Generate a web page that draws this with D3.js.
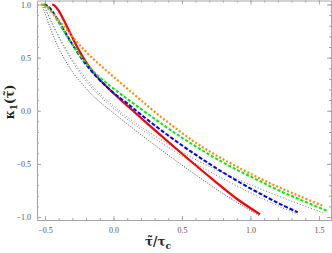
<!DOCTYPE html>
<html><head><meta charset="utf-8">
<script src="https://cdn.jsdelivr.net/npm/d3@7"></script>
<style>body{margin:0;background:#fff}svg{display:block}</style>
</head><body>
<script>
// data (x = tau/tau_c, y = kappa_1)
const redX   = [-0.447,-0.43,-0.40,-0.36,-0.32,-0.28,-0.24,-0.20,-0.15,-0.10,-0.03,0.05,0.15,0.30,0.45,0.60,0.75,0.90,1.07];
const redY   = [1.00,0.99,0.942,0.846,0.742,0.638,0.542,0.458,0.368,0.293,0.202,0.106,-0.009,-0.18,-0.348,-0.513,-0.673,-0.828,-0.975];
const blueX  = [-0.507,-0.48,-0.44,-0.40,-0.35,-0.30,-0.25,-0.20,-0.14,-0.07,0.00,0.10,0.20,0.35,0.50,0.65,0.80,0.95,1.10,1.22,1.345];
const blueY  = [1.00,0.987,0.927,0.843,0.733,0.625,0.525,0.435,0.342,0.251,0.17,0.07,-0.035,-0.185,-0.325,-0.457,-0.58,-0.695,-0.80,-0.88,-0.955];
const greenX = [-0.52,-0.49,-0.45,-0.41,-0.36,-0.31,-0.26,-0.20,-0.13,-0.05,0.05,0.15,0.30,0.45,0.60,0.75,0.90,1.05,1.20,1.38,1.556];
const greenY = [1.00,0.988,0.932,0.852,0.747,0.645,0.55,0.448,0.35,0.26,0.16,0.065,-0.075,-0.21,-0.335,-0.45,-0.555,-0.65,-0.745,-0.845,-0.94];
const orangeX= [-0.53,-0.50,-0.46,-0.42,-0.37,-0.31,-0.24,-0.16,-0.08,0.00,0.10,0.20,0.32,0.45,0.60,0.75,0.90,1.05,1.20,1.37,1.53];
const orangeY= [1.00,0.985,0.941,0.883,0.806,0.713,0.61,0.503,0.41,0.32,0.21,0.10,-0.03,-0.16,-0.30,-0.42,-0.525,-0.625,-0.715,-0.81,-0.895];
const dotAX  = [-0.52,-0.50,-0.47,-0.44,-0.40,-0.35,-0.29,-0.22,-0.14,-0.06,0.00,0.10,0.20,0.35,0.50,0.65,0.80,0.95,1.07];
const dotAY  = [1.00,0.92,0.81,0.71,0.59,0.47,0.35,0.24,0.13,0.04,-0.02,-0.124,-0.224,-0.37,-0.511,-0.648,-0.78,-0.90,-0.99];
const dotBX  = [-0.51,-0.49,-0.46,-0.42,-0.37,-0.31,-0.24,-0.16,-0.07,0.03,0.15,0.30,0.45,0.63,0.80,0.95,1.10,1.22,1.345];
const dotBY  = [1.00,0.94,0.853,0.745,0.62,0.485,0.348,0.22,0.103,-0.007,-0.127,-0.26,-0.385,-0.52,-0.64,-0.74,-0.835,-0.905,-0.975];
const dotCX  = [-0.51,-0.49,-0.46,-0.42,-0.37,-0.31,-0.24,-0.16,-0.07,0.03,0.15,0.30,0.45,0.63,0.80,0.95,1.10,1.30,1.53];
const dotCY  = [1.00,0.942,0.858,0.754,0.634,0.502,0.369,0.241,0.124,0.014,-0.106,-0.235,-0.35,-0.48,-0.585,-0.67,-0.75,-0.85,-0.96];
const xTicks = [-0.5,0.0,0.5,1.0,1.5];
const yTicks = [-1.0,-0.5,0.0,0.5,1.0];

const W=332,H=253;
const L=37,R=331,T=0.5,B=220;
const x=d3.scaleLinear().domain([-0.558,1.588]).range([L,R]);
const y=d3.scaleLinear().domain([-1.028,1.0376]).range([B,T]);
const svg=d3.select("body").append("svg").attr("width",W).attr("height",H);

const axCol="#a6a6a6", lblCol="#555";
const fmt=v=>(v<0?"\u2212":"")+Math.abs(v).toFixed(1);
const xMinor=d3.range(-0.5,1.6,0.1).map(v=>+v.toFixed(2));
const yMinor=d3.range(-1.0,1.01,0.1).map(v=>+v.toFixed(2));

function axisStyle(g){g.selectAll("path").attr("stroke",axCol);g.selectAll("line").attr("stroke",axCol);
  g.selectAll("text").attr("fill",lblCol).style("font-family","'Liberation Serif',serif").style("font-size","8px");}

// minor ticks
svg.append("g").attr("transform",`translate(0,${B})`).call(d3.axisBottom(x).tickValues(xMinor).tickSize(-2).tickFormat("")).call(axisStyle).select("path").remove();
svg.append("g").attr("transform",`translate(0,${T})`).call(d3.axisTop(x).tickValues(xMinor).tickSize(-2).tickFormat("")).call(axisStyle).select("path").remove();
svg.append("g").attr("transform",`translate(${L},0)`).call(d3.axisLeft(y).tickValues(yMinor).tickSize(-2).tickFormat("")).call(axisStyle).select("path").remove();
svg.append("g").attr("transform",`translate(${R},0)`).call(d3.axisRight(y).tickValues(yMinor).tickSize(-2).tickFormat("")).call(axisStyle).select("path").remove();
// major
svg.append("g").attr("transform",`translate(0,${B})`).call(d3.axisBottom(x).tickValues(xTicks).tickSize(-4).tickPadding(7).tickSizeOuter(0).tickFormat(fmt)).call(axisStyle);
svg.append("g").attr("transform",`translate(0,${T})`).call(d3.axisTop(x).tickValues(xTicks).tickSize(-4).tickSizeOuter(0).tickFormat("")).call(axisStyle);
svg.append("g").attr("transform",`translate(${L},0)`).call(d3.axisLeft(y).tickValues(yTicks).tickSize(-4).tickPadding(6).tickSizeOuter(0).tickFormat(fmt)).call(axisStyle);
svg.append("g").attr("transform",`translate(${R},0)`).call(d3.axisRight(y).tickValues(yTicks).tickSize(-4).tickSizeOuter(0).tickFormat("")).call(axisStyle);

const line=d3.line().x(d=>x(d[0])).y(d=>y(d[1])).curve(d3.curveCatmullRom.alpha(0.5));
const z=(a,b)=>a.map((v,i)=>[v,b[i]]);
svg.append("clipPath").attr("id","c").append("rect").attr("x",L).attr("y",T).attr("width",R-L).attr("height",B-T);
const plot=svg.append("g").attr("clip-path","url(#c)");
function draw(d,col,w,dash){plot.append("path").attr("d",line(d)).attr("fill","none").attr("stroke",col).attr("stroke-width",w).attr("stroke-dasharray",dash||null);}
draw(z(dotAX,dotAY),"#333",0.9,"1,1.6");
draw(z(dotBX,dotBY),"#666",0.9,"1,2");
draw(z(dotCX,dotCY),"#666",0.9,"1,2");
draw(z(redX,redY),"#ff0000",2.2);
draw(z(blueX,blueY),"#0000ff",2,"4,1.8");
draw(z(greenX,greenY),"#00ee00",2,"3,2");
draw(z(orangeX,orangeY),"#ff8c00",2.2,"2,2");

svg.append("text").attr("transform","translate(14,102) rotate(-90)").attr("text-anchor","middle")
 .style("font-family","'DejaVu Serif',serif").style("font-weight","bold").style("font-size","12px").attr("fill","#222")
 .html('κ<tspan dy="3" font-size="9">1</tspan><tspan dy="-3">(τ̃)</tspan>');
svg.append("text").attr("x",158).attr("y",246).attr("text-anchor","middle")
 .style("font-family","'DejaVu Serif',serif").style("font-weight","bold").style("font-size","12px").attr("fill","#222")
 .html('τ̃/τ<tspan dy="3" font-size="9">c</tspan>');
</script>
</body></html>
